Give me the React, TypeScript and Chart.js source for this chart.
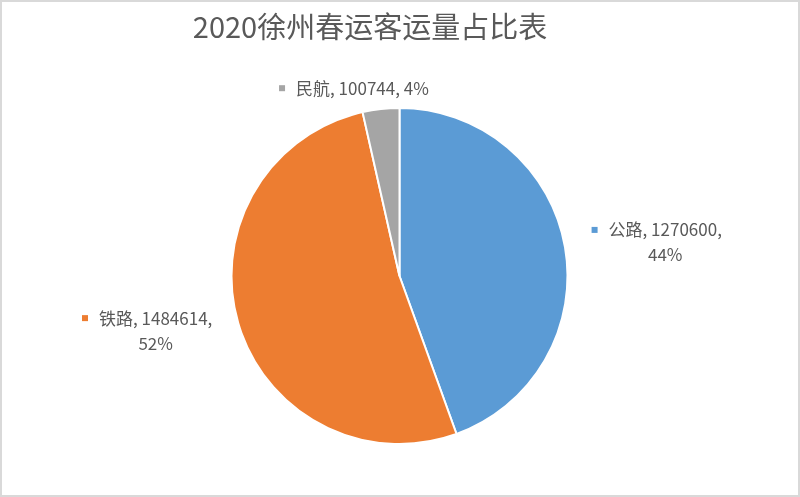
import React, { useEffect, useRef } from 'react';
import { Chart, registerables } from 'chart.js';

Chart.register(...registerables);

const titleText = '2020徐州春运客运量占比表';
const categories = ['公路', '铁路', '民航'];
const values = [1270600, 1484614, 100744];
const colors = ['#5B9BD5', '#ED7D31', '#A5A5A5'];

const FONT = '"Noto Sans CJK SC", "Noto Sans", sans-serif';
const TEXT_COLOR = '#595959';

const decorPlugin = {
  id: 'decor',
  beforeDraw(chart: any) {
    const { ctx, width, height } = chart;
    ctx.save();
    ctx.fillStyle = '#ffffff';
    ctx.fillRect(0, 0, width, height);
    ctx.restore();
  },
  afterDraw(chart: any) {
    const { ctx, width, height } = chart;
    ctx.save();
    // outer frame
    ctx.strokeStyle = '#d9d9d9';
    ctx.lineWidth = 2;
    ctx.strokeRect(1, 1, width - 2, height - 2);

    // title
    ctx.font = `29px ${FONT}`;
    ctx.fillStyle = TEXT_COLOR;
    ctx.textAlign = 'center';
    ctx.textBaseline = 'middle';
    ctx.fillText(titleText, 370, 27);

    // data labels
    const meta = chart.getDatasetMeta(0);
    const total = values.reduce((a, b) => a + b, 0);
    ctx.font = `17px ${FONT}`;
    meta.data.forEach((arc: any, i: number) => {
      const { x, y, startAngle, endAngle, outerRadius } = arc.getProps(
        ['x', 'y', 'startAngle', 'endAngle', 'outerRadius'],
        true
      );
      const mid = (startAngle + endAngle) / 2;
      const dx = Math.cos(mid);
      const dy = Math.sin(mid);
      const d = outerRadius + 27;
      const ax = x + dx * d;
      const ay = y + dy * d;
      const pct = Math.round((values[i] / total) * 100) + '%';
      const side = Math.abs(dx) > 0.5;
      const lines = side
        ? [`${categories[i]}, ${values[i]},`, pct]
        : [`${categories[i]}, ${values[i]}, ${pct}`];
      const lh = 25;
      const marker = 6;
      const gap = 11;
      const w1 = ctx.measureText(lines[0]).width;
      const textW = Math.max(...lines.map((l) => ctx.measureText(l).width));
      const blockW = marker + gap + textW;
      const blockH = lines.length * lh;
      let left: number;
      let top: number;
      if (side && dx > 0) {
        left = ax;
        top = ay - blockH / 2;
      } else if (side) {
        left = ax - blockW;
        top = ay - blockH / 2;
      } else {
        left = ax - blockW / 2 - 24;
        top = ay - blockH / 2 + 6;
      }
      ctx.fillStyle = colors[i];
      ctx.fillRect(left, top + lh / 2 - 3, marker, marker);
      ctx.fillStyle = TEXT_COLOR;
      ctx.textBaseline = 'middle';
      const textX = left + marker + gap;
      lines.forEach((line, k) => {
        const ly = top + lh * (k + 0.5);
        if (k === 0) {
          ctx.textAlign = 'left';
          ctx.fillText(line, textX, ly);
        } else {
          ctx.textAlign = 'center';
          ctx.fillText(line, textX + w1 / 2, ly);
        }
      });
    });
    ctx.restore();
  },
};

export default function App() {
  const ref = useRef<HTMLCanvasElement | null>(null);
  useEffect(() => {
    if (!ref.current) return;
    const chart = new Chart(ref.current, {
      type: 'pie',
      data: {
        labels: categories,
        datasets: [
          {
            data: values,
            backgroundColor: colors,
            borderColor: '#ffffff',
            borderWidth: 2,
            hoverOffset: 0,
            offset: 0,
            radius: 168,
          } as any,
        ],
      },
      options: {
        responsive: false,
        animation: false,
        events: [],
        layout: { padding: { left: 232, right: 233, top: 108, bottom: 53 } },
        plugins: {
          legend: { display: false },
          tooltip: { enabled: false },
          title: { display: false },
        },
      },
      plugins: [decorPlugin],
    });
    return () => chart.destroy();
  }, []);
  return (
    <canvas
      ref={ref}
      width={800}
      height={497}
      style={{ position: 'fixed', left: 0, top: 0, width: 800, height: 497 }}
    />
  );
}
